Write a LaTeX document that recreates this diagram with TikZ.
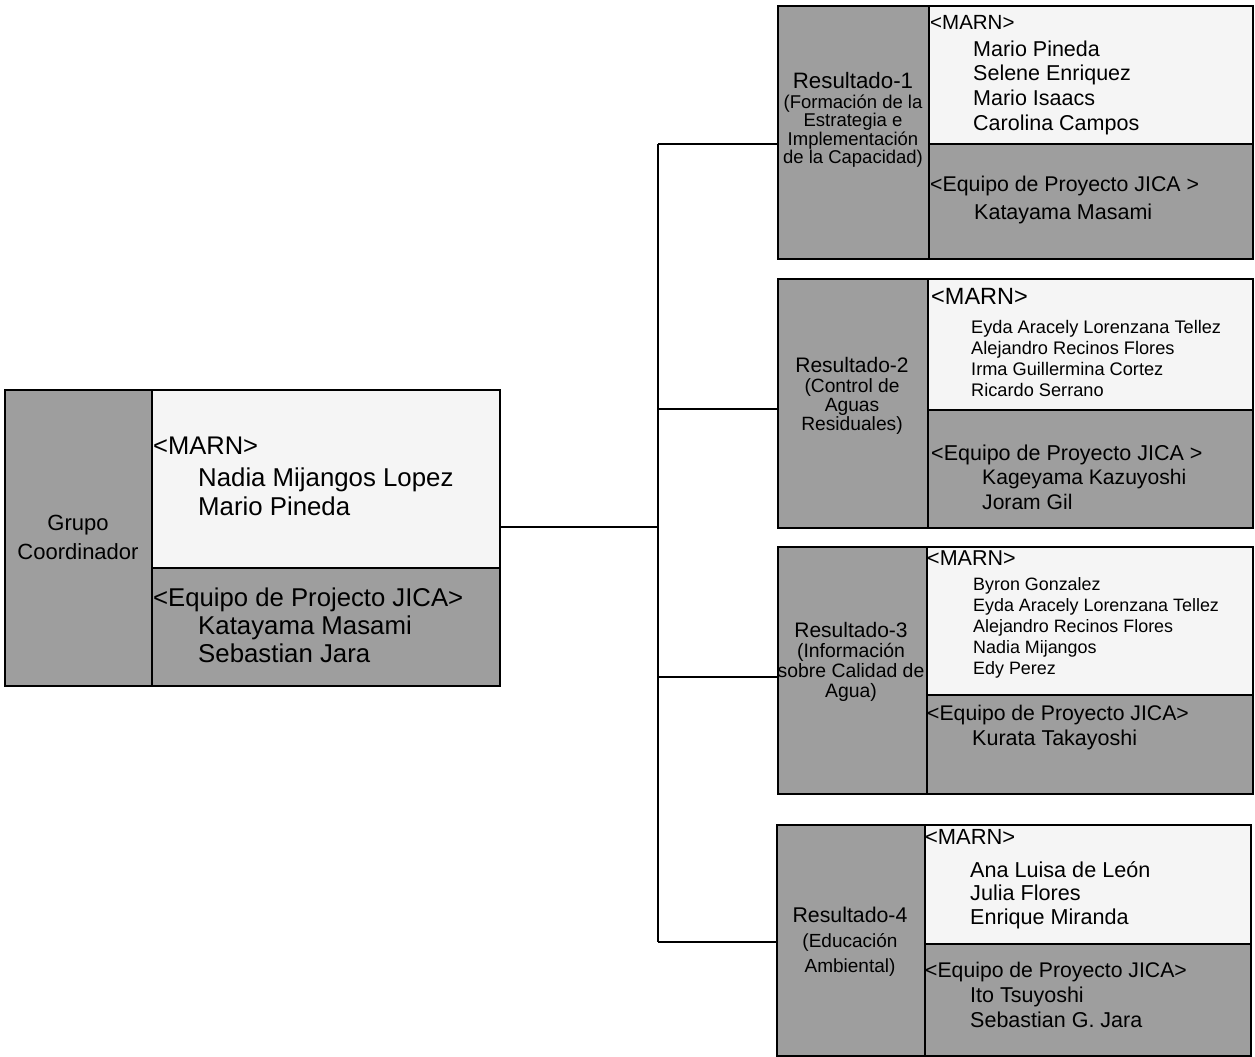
\documentclass[tikz,border=0pt]{standalone}
\usepackage{fontspec}
\setmainfont{Liberation Sans}
\newcommand\fsz[2]{\fontsize{#1bp}{#2bp}\selectfont}
\tikzset{
  cell/.style={draw=black, line width=1.5bp, inner sep=0pt, anchor=north west},
  colcell/.style={cell, fill=black!38},
  marncell/.style={cell, fill=black!4},
  jicacell/.style={cell, fill=black!38},
  coltext/.style={inner sep=0pt, align=center},
  listtext/.style={inner sep=0pt, align=left, anchor=west},
  link/.style={line width=1.5bp},
}
\begin{document}
\begin{tikzpicture}[x=1bp,y=-1bp]
  \useasboundingbox (0,0) rectangle (1255,1057);
  % Node: Grupo Coordinador
\begin{scope}
  \node[colcell, minimum width=147bp, minimum height=296bp] (g-col) at (4,389) {};
  \node[marncell, minimum width=348bp, minimum height=178bp] (g-marn) at (151,389) {};
  \node[jicacell, minimum width=348bp, minimum height=118bp] (g-jica) at (151,567) {};
  \node[coltext, font=\fsz{22}{29}] (g-col-t) at (78,537) {Grupo\\Coordinador};
  \node[listtext, font=\fsz{25.8}{29}] (g-marn-t) at (153,476)
    {{\fsz{25.5}{29}<MARN>}\\[3bp]
     \hspace*{45bp}Nadia Mijangos Lopez\\
     \hspace*{45bp}Mario Pineda};
  \node[listtext, font=\fsz{25.8}{28}] (g-jica-t) at (153,625)
    {{\fsz{25.7}{28}<Equipo de Projecto JICA>}\\
     \hspace*{45bp}Katayama Masami\\
     \hspace*{45bp}Sebastian Jara};
\end{scope}
  % Node: Resultado-1
\begin{scope}
  \node[colcell, minimum width=151bp, minimum height=253bp] (r1-col) at (777,5) {};
  \node[marncell, minimum width=324bp, minimum height=138bp] (r1-marn) at (928,5) {};
  \node[jicacell, minimum width=324bp, minimum height=115bp] (r1-jica) at (928,143) {};
  \node[coltext, font=\fsz{18.5}{18.5}] (r1-col-t) at (853,120)
    {{\fsz{22.3}{20}Resultado-1}\\[1.5bp]
     (Formación de la\\Estrategia e\\Implementación\\de la Capacidad)};
  \node[listtext, font=\fsz{21.5}{24.7}] (r1-marn-t) at (930,75)
    {{\fsz{20.5}{24.7}<MARN>}\\[2bp]
     \hspace*{43bp}Mario Pineda\\
     \hspace*{43bp}Selene Enriquez\\
     \hspace*{43bp}Mario Isaacs\\
     \hspace*{43bp}Carolina Campos};
  \node[listtext, font=\fsz{21.5}{28}] (r1-jica-t) at (930,200)
    {{\fsz{21.3}{28}<Equipo de Proyecto JICA >}\\
     \hspace*{44bp}Katayama Masami};
\end{scope}
  % Node: Resultado-2
\begin{scope}
  \node[colcell, minimum width=150bp, minimum height=249bp] (r2-col) at (777,278) {};
  \node[marncell, minimum width=325bp, minimum height=131bp] (r2-marn) at (927,278) {};
  \node[jicacell, minimum width=325bp, minimum height=118bp] (r2-jica) at (927,409) {};
  \node[coltext, font=\fsz{19.2}{19}] (r2-col-t) at (852,396)
    {{\fsz{21}{19}Resultado-2}\\[1bp]
     (Control de\\Aguas\\Residuales)};
  \node[listtext, font=\fsz{18.2}{21}] (r2-marn-t) at (931,342)
    {{\fsz{23.5}{21}<MARN>}\\[8bp]
     \hspace*{40bp}Eyda Aracely Lorenzana Tellez\\
     \hspace*{40bp}Alejandro Recinos Flores\\
     \hspace*{40bp}Irma Guillermina Cortez\\
     \hspace*{40bp}Ricardo Serrano};
  \node[listtext, font=\fsz{21.1}{24.5}] (r2-jica-t) at (931,477)
    {{\fsz{21.5}{24.5}<Equipo de Proyecto JICA >}\\
     \hspace*{51bp}Kageyama Kazuyoshi\\
     \hspace*{51bp}Joram Gil};
\end{scope}
  % Node: Resultado-3
\begin{scope}
  \node[colcell, minimum width=149bp, minimum height=247bp] (r3-col) at (777,546) {};
  \node[marncell, minimum width=326bp, minimum height=148bp] (r3-marn) at (926,546) {};
  \node[jicacell, minimum width=326bp, minimum height=99bp] (r3-jica) at (926,694) {};
  \node[coltext, font=\fsz{19.4}{20}] (r3-col-t) at (851,662)
    {{\fsz{21}{20}Resultado-3}\\
     (Información\\sobre Calidad de\\Agua)};
  \node[listtext, font=\fsz{17.9}{21}] (r3-marn-t) at (927,614)
    {{\fsz{21.5}{21}<MARN>}\\[4bp]
     \hspace*{46bp}Byron Gonzalez\\
     \hspace*{46bp}Eyda Aracely Lorenzana Tellez\\
     \hspace*{46bp}Alejandro Recinos Flores\\
     \hspace*{46bp}Nadia Mijangos\\
     \hspace*{46bp}Edy Perez};
  \node[listtext, font=\fsz{21.5}{25}] (r3-jica-t) at (927,728)
    {{\fsz{21.2}{25}<Equipo de Proyecto JICA>}\\
     \hspace*{45bp}Kurata Takayoshi};
\end{scope}
  % Node: Resultado-4
\begin{scope}
  \node[colcell, minimum width=148bp, minimum height=231bp] (r4-col) at (776,824) {};
  \node[marncell, minimum width=326bp, minimum height=119bp] (r4-marn) at (924,824) {};
  \node[jicacell, minimum width=326bp, minimum height=112bp] (r4-jica) at (924,943) {};
  \node[coltext, font=\fsz{19}{25}] (r4-col-t) at (850,942)
    {{\fsz{21.3}{25}Resultado-4}\\
     (Educación\\Ambiental)};
  \node[listtext, font=\fsz{21.6}{23.5}] (r4-marn-t) at (925,879)
    {{\fsz{21.9}{23.5}<MARN>}\\[9.5bp]
     \hspace*{45bp}Ana Luisa de León\\
     \hspace*{45bp}Julia Flores\\
     \hspace*{45bp}Enrique Miranda};
  \node[listtext, font=\fsz{21.5}{25}] (r4-jica-t) at (925,995)
    {{\fsz{21.2}{25}<Equipo de Proyecto JICA>}\\
     \hspace*{45bp}Ito Tsuyoshi\\
     \hspace*{45bp}Sebastian G. Jara};
\end{scope}
  % Edge: Grupo Coordinador -> Resultado-1 ... Resultado-4
  \coordinate (t0) at (658,527);
  \coordinate (t1) at (658,144);
  \coordinate (t2) at (658,409);
  \coordinate (t3) at (658,677);
  \coordinate (t4) at (658,942);
  \draw[link] (g-marn.east |- t0) -- (t0);
  \draw[link] (t1) -- (t4);
  \foreach \i in {1,...,4}
    \draw[link] (t\i) -- (t\i -| r\i-col.west);
\end{tikzpicture}
\end{document}
